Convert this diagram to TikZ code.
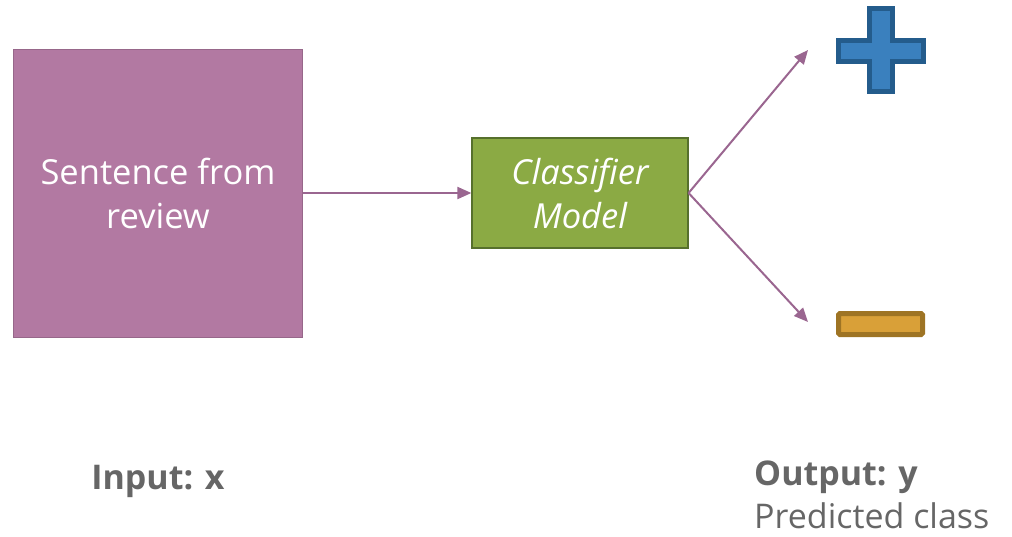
\documentclass[tikz,border=0pt]{standalone}
\usepackage{fontspec}
\setmainfont{Open Sans}
\usetikzlibrary{arrows.meta}
\definecolor{boxpurple}{HTML}{B279A2}
\definecolor{linepurple}{HTML}{9A6690}
\definecolor{boxgreen}{HTML}{8BAA44}
\definecolor{edgegreen}{HTML}{56702C}
\definecolor{plusblue}{HTML}{3A80BE}
\definecolor{edgeblue}{HTML}{245C8C}
\definecolor{minusgold}{HTML}{D9A038}
\definecolor{edgegold}{HTML}{9E7424}
\definecolor{labelgray}{HTML}{666666}

\begin{document}
\begin{tikzpicture}[x=1pt,y=-1pt,
  flow/.style={draw=linepurple,line width=2pt,-{Triangle[length=14pt,width=12pt]}},
  boxtext/.style={text=white,align=center,font=\fontsize{34.5}{44}\selectfont,inner sep=0pt}]
\useasboundingbox (0,0) rectangle (1012,536);
\node (sentence) [boxtext,draw=boxpurple!85!black,line width=.8pt,fill=boxpurple,
  minimum width=289pt,minimum height=288pt] at (158,193) {Sentence from\\review};
\node (classifier) [boxtext,draw=edgegreen,line width=1.2pt,fill=boxgreen,
  minimum width=216pt,minimum height=110pt,font=\fontsize{34.5}{44}\selectfont\itshape] at (580,193) {Classifier\\Model};
\coordinate (plustip) at (808,50);
\coordinate (minustip) at (808,322);
\draw [flow] (sentence.east) -- (classifier.west);
\draw [flow] (classifier.east) -- (plustip);
\draw [flow] (classifier.east) -- (minustip);
% plus sign
\draw [fill=plusblue,draw=edgeblue,line width=5pt]
  (869.5,8.5) -- (892.5,8.5) -- (892.5,40.5) -- (923.5,40.5) -- (923.5,61.5) -- (892.5,61.5)
  -- (892.5,91.5) -- (869.5,91.5) -- (869.5,61.5) -- (838.5,61.5) -- (838.5,40.5) -- (869.5,40.5) -- cycle;
% minus sign
\node (minus) [draw=edgegold,fill=minusgold,line width=5pt,rounded corners=1.5pt,
  minimum width=84pt,minimum height=21pt,inner sep=0pt] at (880.5,324) {};
\node (input) [text=labelgray,font=\fontsize{34}{38}\selectfont\bfseries] at (158,481) {Input: x};
\node (output) [text=labelgray,anchor=base west,align=left,inner sep=0pt,
  font=\fontsize{34}{43}\selectfont] at (754,528) {\textbf{Output: y}\\Predicted class};
\end{tikzpicture}
\end{document}
